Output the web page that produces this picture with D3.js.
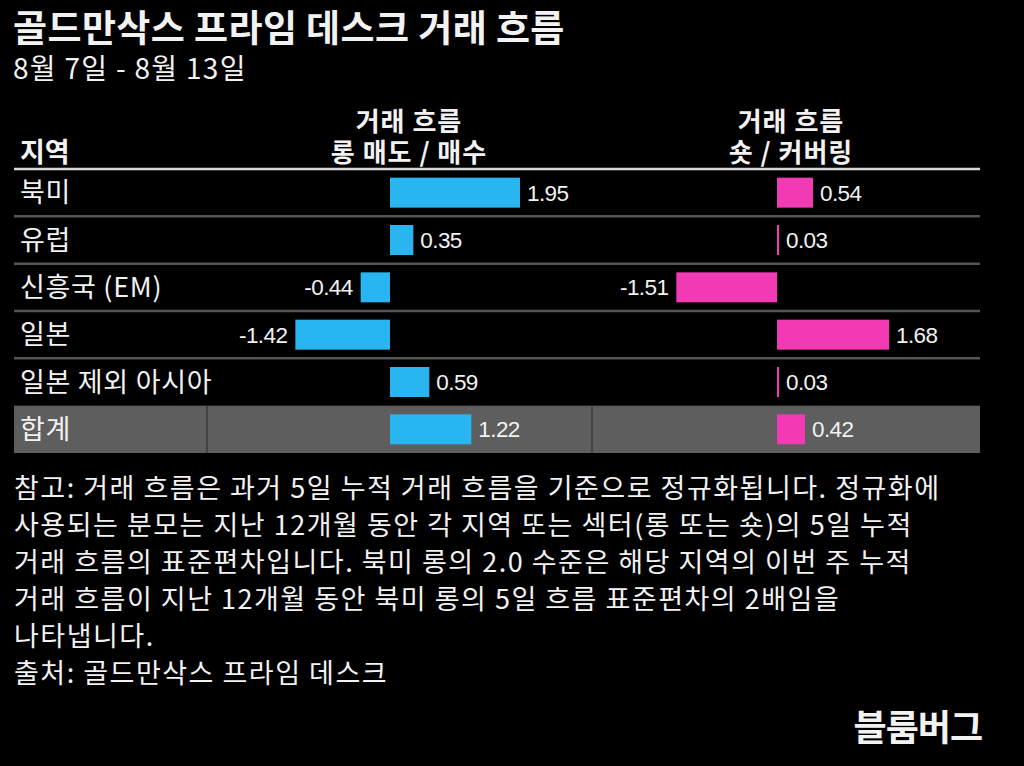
<!DOCTYPE html>
<html>
<head>
<meta charset="utf-8">
<script src="https://cdn.jsdelivr.net/npm/d3@7/dist/d3.min.js"></script>
<style>
  html, body { margin: 0; padding: 0; background: #000; }
  svg { display: block; }
  text { font-family: "Noto Sans CJK KR", "Noto Sans", sans-serif; fill: #f2f2f2; }
  .num { font-family: "Liberation Sans", Arial, sans-serif; }
</style>
</head>
<body>
<svg id="chart" width="1024" height="766"></svg>
<script>
const titleText = "골드만삭스 프라임 데스크 거래 흐름";
const subtitleText = "8월 7일 - 8월 13일";
const regionHeader = "지역";
const longHeader = ["거래 흐름", "롱 매도 / 매수"];
const shortHeader = ["거래 흐름", "숏 / 커버링"];
const regions = ["북미", "유럽", "신흥국 (EM)", "일본", "일본 제외 아시아", "합계"];
const longValues = [1.95, 0.35, -0.44, -1.42, 0.59, 1.22];
const shortValues = [0.54, 0.03, -1.51, 1.68, 0.03, 0.42];
const noteLines = [
  "참고: 거래 흐름은 과거 5일 누적 거래 흐름을 기준으로 정규화됩니다. 정규화에",
  "사용되는 분모는 지난 12개월 동안 각 지역 또는 섹터(롱 또는 숏)의 5일 누적",
  "거래 흐름의 표준편차입니다. 북미 롱의 2.0 수준은 해당 지역의 이번 주 누적",
  "거래 흐름이 지난 12개월 동안 북미 롱의 5일 흐름 표준편차의 2배임을",
  "나타냅니다.",
  "출처: 골드만삭스 프라임 데스크"
];
const brandText = "블룸버그";

const svg = d3.select("#chart");
svg.append("rect").attr("width", 1024).attr("height", 766).attr("fill", "#000");

const tableLeft = 14, tableRight = 980;
const col1 = 207, col2 = 592;

// Title & subtitle
svg.append("text").attr("x", 13).attr("y", 42)
  .attr("font-size", 37).attr("font-weight", 700).attr("fill", "#fff")
  .attr("letter-spacing", 0.4)
  .text(titleText);
svg.append("text").attr("x", 13).attr("y", 79)
  .attr("font-size", 28).attr("font-weight", 400)
  .attr("letter-spacing", 1.3)
  .text(subtitleText);

// Scales
const y = d3.scaleBand().domain(regions).range([169, 453]).padding(0);
const xLong = d3.scaleLinear().domain([-3, 3]).range([190, 590]);
const xShort = d3.scaleLinear().domain([-3, 3]).range([577, 977]);
const barH = 30;

// Total row background
const totalRow = regions[regions.length - 1];
svg.append("rect")
  .attr("x", tableLeft).attr("y", y(totalRow))
  .attr("width", tableRight - tableLeft).attr("height", y.bandwidth())
  .attr("fill", "#5e5e5e");
[col1, col2].forEach(cx => {
  svg.append("line")
    .attr("x1", cx).attr("x2", cx)
    .attr("y1", y(totalRow)).attr("y2", y(totalRow) + y.bandwidth())
    .attr("stroke", "#3c3c3c").attr("stroke-width", 1.5);
});

// Row separators
regions.slice(0, regions.length - 2).forEach(r => {
  const yy = y(r) + y.bandwidth();
  svg.append("line")
    .attr("x1", tableLeft).attr("x2", tableRight)
    .attr("y1", yy).attr("y2", yy)
    .attr("stroke", "#555").attr("stroke-width", 2.5);
});

// Header line
svg.append("line")
  .attr("x1", tableLeft).attr("x2", tableRight)
  .attr("y1", 169).attr("y2", 169)
  .attr("stroke", "#d8d8d8").attr("stroke-width", 2.5);

// Headers
svg.append("text").attr("x", 20).attr("y", 162)
  .attr("font-size", 27).attr("font-weight", 700).text(regionHeader);
function header(lines, cx) {
  const t = svg.append("text")
    .attr("text-anchor", "middle").attr("font-size", 26).attr("font-weight", 700)
    .attr("letter-spacing", 1);
  lines.forEach((s, i) => {
    t.append("tspan").attr("x", cx).attr("y", 131 + i * 31).text(s);
  });
}
header(longHeader, 409);
header(shortHeader, 791);

// Region labels
svg.append("g").selectAll("text").data(regions).join("text")
  .attr("x", 20)
  .attr("y", d => y(d) + y.bandwidth() / 2)
  .attr("dy", "0.36em")
  .attr("font-size", 27)
  .attr("letter-spacing", 0.7)
  .text(d => d);

function drawBars(values, x, color) {
  const g = svg.append("g");
  const data = regions.map((r, i) => ({ r, v: values[i] }));
  g.selectAll("rect").data(data).join("rect")
    .attr("x", d => Math.min(x(0), x(d.v)))
    .attr("y", d => y(d.r) + (y.bandwidth() - barH) / 2)
    .attr("width", d => Math.max(1.5, Math.abs(x(d.v) - x(0))))
    .attr("height", barH)
    .attr("fill", color);
  g.selectAll("text").data(data).join("text")
    .attr("class", "num")
    .attr("x", d => d.v >= 0 ? Math.max(x(d.v), x(0) + 1.5) + 7 : x(d.v) - 8)
    .attr("y", d => y(d.r) + y.bandwidth() / 2)
    .attr("dy", "0.36em")
    .attr("text-anchor", d => d.v >= 0 ? "start" : "end")
    .attr("font-size", 22.5)
    .attr("letter-spacing", -0.6)
    .text(d => d.v.toFixed(2));
}
drawBars(longValues, xLong, "#29b5ef");
drawBars(shortValues, xShort, "#f23ab4");

// Notes
svg.append("g").selectAll("text").data(noteLines).join("text")
  .attr("x", 14)
  .attr("y", (d, i) => 498 + i * 37)
  .attr("font-size", 27)
  .attr("letter-spacing", 1.5)
  .text(d => d);

// Brand
svg.append("text").attr("x", 982).attr("y", 741)
  .attr("text-anchor", "end").attr("font-size", 36).attr("font-weight", 700)
  .attr("letter-spacing", -1).attr("fill", "#fff")
  .text(brandText);
</script>
</body>
</html>
